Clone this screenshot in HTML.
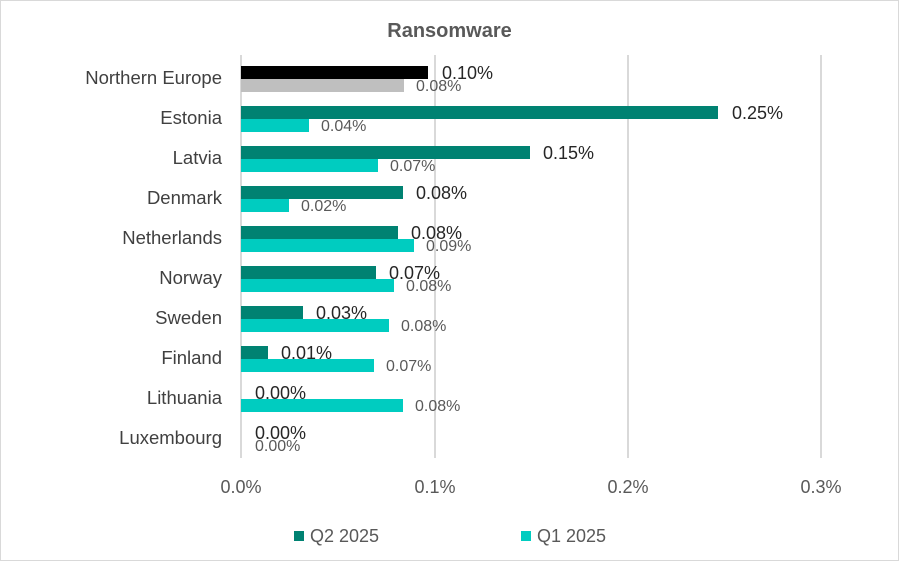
<!DOCTYPE html>
<html><head><meta charset="utf-8"><style>
body{margin:0;width:899px;height:561px;background:#fff;font-family:"Liberation Sans",sans-serif;position:relative;overflow:hidden}
.b{position:absolute;height:13px}
.t{position:absolute;white-space:nowrap;line-height:1}
.c{right:677px;font-size:18.5px;color:#404040;text-align:right}
.l2{font-size:18px;color:#262626}
.l1{font-size:16px;color:#595959}
.g{position:absolute;top:55px;height:403px;width:2px;background:#d9d9d9}
.x{position:absolute;top:477px;font-size:18px;color:#595959;width:60px;text-align:center}
</style></head><body>
<div style="position:absolute;left:0;top:0;width:897px;height:559px;border:1px solid #d9d9d9"></div>
<div class="t" style="left:0;width:899px;text-align:center;top:21px;font-size:20px;font-weight:bold;color:#595959">Ransomware</div>
<div class="g" style="left:240px"></div>
<div class="g" style="left:434px"></div>
<div class="g" style="left:627px"></div>
<div class="g" style="left:820px"></div>
<div class="x" style="left:211px">0.0%</div>
<div class="x" style="left:405px">0.1%</div>
<div class="x" style="left:598px">0.2%</div>
<div class="x" style="left:791px">0.3%</div>

<div class="t c" style="top:69px">Northern Europe</div>
<div class="b" style="left:241px;top:66px;width:187px;background:#000"></div>
<div class="b" style="left:241px;top:79px;width:163px;background:#bfbfbf"></div>
<div class="t l2" style="left:442px;top:64px">0.10%</div>
<div class="t l1" style="left:416px;top:79px">0.08%</div>

<div class="t c" style="top:109px">Estonia</div>
<div class="b" style="left:241px;top:106px;width:477px;background:#008272"></div>
<div class="b" style="left:241px;top:119px;width:68px;background:#00ccc0"></div>
<div class="t l2" style="left:732px;top:104px">0.25%</div>
<div class="t l1" style="left:321px;top:119px">0.04%</div>

<div class="t c" style="top:149px">Latvia</div>
<div class="b" style="left:241px;top:146px;width:289px;background:#008272"></div>
<div class="b" style="left:241px;top:159px;width:137px;background:#00ccc0"></div>
<div class="t l2" style="left:543px;top:144px">0.15%</div>
<div class="t l1" style="left:390px;top:159px">0.07%</div>

<div class="t c" style="top:189px">Denmark</div>
<div class="b" style="left:241px;top:186px;width:162px;background:#008272"></div>
<div class="b" style="left:241px;top:199px;width:48px;background:#00ccc0"></div>
<div class="t l2" style="left:416px;top:184px">0.08%</div>
<div class="t l1" style="left:301px;top:199px">0.02%</div>

<div class="t c" style="top:229px">Netherlands</div>
<div class="b" style="left:241px;top:226px;width:157px;background:#008272"></div>
<div class="b" style="left:241px;top:239px;width:173px;background:#00ccc0"></div>
<div class="t l2" style="left:411px;top:224px">0.08%</div>
<div class="t l1" style="left:426px;top:239px">0.09%</div>

<div class="t c" style="top:269px">Norway</div>
<div class="b" style="left:241px;top:266px;width:135px;background:#008272"></div>
<div class="b" style="left:241px;top:279px;width:153px;background:#00ccc0"></div>
<div class="t l2" style="left:389px;top:264px">0.07%</div>
<div class="t l1" style="left:406px;top:279px">0.08%</div>

<div class="t c" style="top:309px">Sweden</div>
<div class="b" style="left:241px;top:306px;width:62px;background:#008272"></div>
<div class="b" style="left:241px;top:319px;width:148px;background:#00ccc0"></div>
<div class="t l2" style="left:316px;top:304px">0.03%</div>
<div class="t l1" style="left:401px;top:319px">0.08%</div>

<div class="t c" style="top:349px">Finland</div>
<div class="b" style="left:241px;top:346px;width:27px;background:#008272"></div>
<div class="b" style="left:241px;top:359px;width:133px;background:#00ccc0"></div>
<div class="t l2" style="left:281px;top:344px">0.01%</div>
<div class="t l1" style="left:386px;top:359px">0.07%</div>

<div class="t c" style="top:389px">Lithuania</div>
<div class="b" style="left:241px;top:399px;width:162px;background:#00ccc0"></div>
<div class="t l2" style="left:255px;top:384px">0.00%</div>
<div class="t l1" style="left:415px;top:399px">0.08%</div>

<div class="t c" style="top:429px">Luxembourg</div>
<div class="t l2" style="left:255px;top:424px">0.00%</div>
<div class="t l1" style="left:255px;top:439px">0.00%</div>

<div class="b" style="left:294px;top:531px;width:10px;height:10px;background:#008272"></div>
<div class="t" style="left:310px;top:527px;font-size:18px;color:#595959">Q2 2025</div>
<div class="b" style="left:521px;top:531px;width:10px;height:10px;background:#00ccc0"></div>
<div class="t" style="left:537px;top:527px;font-size:18px;color:#595959">Q1 2025</div>
</body></html>
